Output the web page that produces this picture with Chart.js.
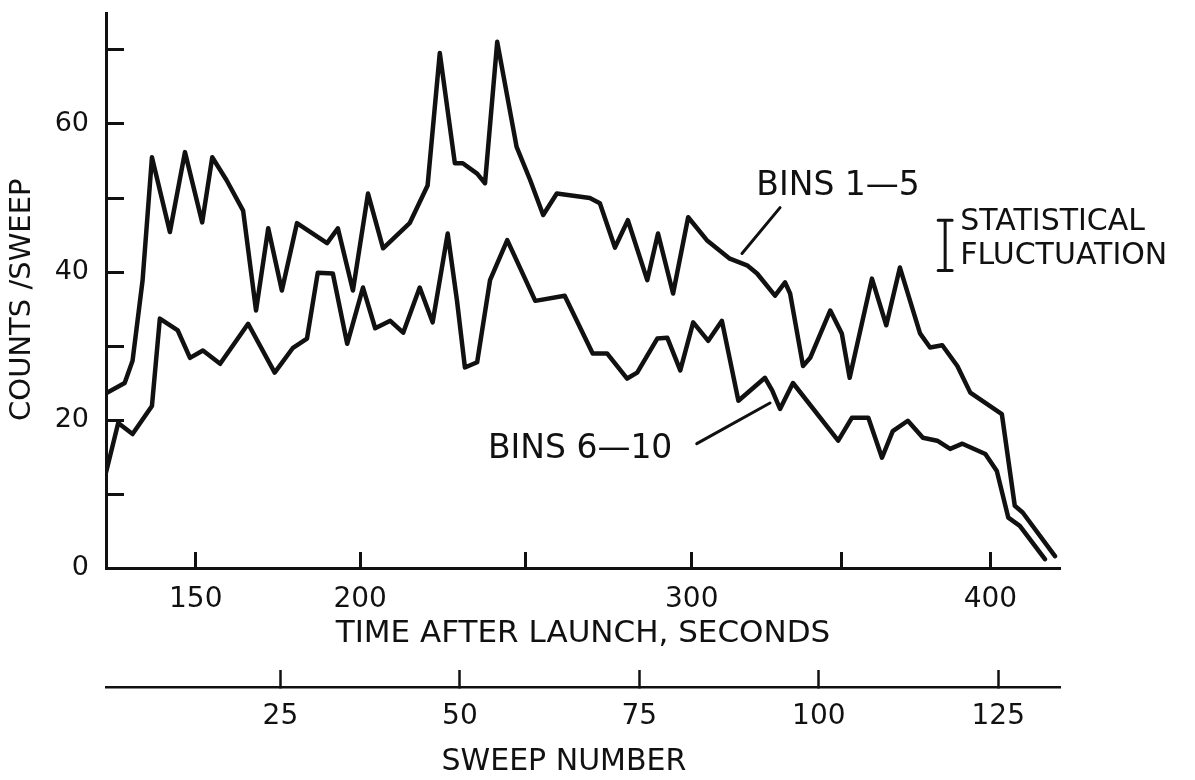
<!DOCTYPE html>
<html>
<head>
<meta charset="utf-8">
<title>Counts per sweep</title>
<script src="https://cdn.jsdelivr.net/npm/chart.js@4.4.1/dist/chart.umd.min.js"></script>
<style>
  html, body { margin: 0; padding: 0; background: #fff; }
  #wrap { width: 1195px; height: 780px; }
</style>
</head>
<body>
<div id="wrap"><canvas id="counts" width="1195" height="780"></canvas></div>
<script>
// Counts per sweep for two groups of bins, x in sweep number

const bins15Sweep = [0.7, 3.3, 4.4, 5.8, 7.1, 9.6, 11.7, 14.1, 15.5, 17.5, 19.8, 21.6, 23.3, 25.2, 27.3,
  31.5, 33.0, 35.1, 37.2, 39.3, 43.0, 45.5, 47.2, 49.3, 50.4, 52.4, 53.5, 55.2, 57.9, 59.8,
  61.6, 63.5, 68.1, 69.5, 71.6, 73.4, 76.1, 77.6, 79.7, 81.8, 84.4, 87.6, 90.0, 91.4, 93.9,
  95.3, 96.0, 97.8, 98.8, 101.6, 103.2, 104.3, 107.4, 109.4, 111.3, 114.1, 115.5, 117.2, 119.3, 121.1,
  125.5, 127.3, 128.4, 132.9];
const bins15Counts = [23.6, 25.0, 28.0, 38.9, 55.5, 45.4, 56.2, 46.7, 55.5, 52.4, 48.3, 34.8, 45.9, 37.5, 46.6,
  43.9, 45.9, 37.5, 50.6, 43.2, 46.6, 51.7, 69.6, 54.7, 54.7, 53.3, 52.0, 71.1, 56.9, 52.4,
  47.7, 50.6, 50.0, 49.3, 43.3, 47.0, 38.9, 45.2, 37.1, 47.4, 44.3, 41.8, 40.9, 39.8, 36.8,
  38.6, 37.1, 27.3, 28.4, 34.8, 31.7, 25.7, 39.1, 32.8, 40.6, 31.7, 29.8, 30.1, 27.3, 23.7,
  20.8, 8.4, 7.5, 1.6];

const bins610Sweep = [0.7, 2.4, 4.4, 7.1, 8.2, 10.7, 12.4, 14.2, 16.6, 20.5, 24.2, 26.7, 28.7, 30.2, 32.3,
  34.3, 36.5, 38.2, 40.3, 42.1, 44.4, 46.2, 48.3, 49.6, 50.7, 52.4, 54.2, 56.6, 60.5, 64.6,
  68.5, 70.5, 73.3, 74.7, 77.5, 78.9, 80.7, 82.5, 84.6, 86.5, 88.8, 92.5, 93.5, 94.6, 96.4,
  102.7, 104.6, 106.9, 108.8, 110.3, 112.4, 114.5, 116.5, 118.3, 120.0, 123.2, 124.8, 126.4, 128.0, 131.5];
const bins610Counts = [12.9, 19.6, 18.1, 21.9, 33.7, 32.1, 28.4, 29.4, 27.6, 33.0, 26.4, 29.7, 31.0, 39.9, 39.8,
  30.3, 37.9, 32.4, 33.4, 31.8, 37.9, 33.2, 45.2, 36.1, 27.1, 27.8, 38.9, 44.3, 36.1, 36.8,
  29.0, 29.0, 25.6, 26.4, 31.0, 31.1, 26.7, 33.2, 30.7, 33.4, 22.6, 25.7, 24.0, 21.5, 25.0,
  17.2, 20.3, 20.3, 14.9, 18.5, 19.9, 17.6, 17.2, 16.1, 16.8, 15.4, 13.1, 6.8, 5.7, 1.2];

// time after launch (s) and the sweep number each one falls on
const timeTicks = [150, 200, 250, 300, 350, 400];
const timeTickSweeps = [13.2, 36.1, 59.1, 82.3, 103.2, 123.9];
const timeTickLabels = ['150', '200', '', '300', '', '400'];

const sweepTicks = [25, 50, 75, 100, 125];
const countTicks = [0, 10, 20, 30, 40, 50, 60, 70];
const countTickLabels = ['0', '', '20', '', '40', '', '60', ''];

// size of the statistical fluctuation, counts
const fluctuation = [40.2, 47.0];

const sweepMin = 0.7, sweepMax = 133.6;
const black = '#111';

Chart.defaults.font.family = '"DejaVu Sans", sans-serif';
Chart.defaults.color = black;

// labels and leader lines, placed in sweep / count units
const notes = {
  bins15: { text: 'BINS 1\u20145', x: 91.3, y: 51.6, from: [94.6, 48.7], to: [89.3, 42.5] },
  bins610: { text: 'BINS 6\u201410', x: 53.9, y: 16.0, from: [83.0, 16.8], to: [93.2, 22.3] },
  fluct: { x: 117.6, textX: 119.7, lines: [['STATISTICAL', 46.7], ['FLUCTUATION', 42.1]] }
};

const notesPlugin = {
  id: 'notes',
  afterDraw(chart) {
    const {ctx} = chart;
    const sx = chart.scales.x, sy = chart.scales.y;
    const px = v => sx.getPixelForValue(v);
    const py = v => sy.getPixelForValue(v);
    ctx.save();
    ctx.strokeStyle = black;
    ctx.fillStyle = black;
    ctx.lineWidth = 3;
    ctx.lineCap = 'round';
    ctx.textAlign = 'left';
    ctx.textBaseline = 'middle';

    ctx.font = '33px "DejaVu Sans"';
    [notes.bins15, notes.bins610].forEach(n => {
      ctx.fillText(n.text, px(n.x), py(n.y));
      ctx.beginPath();
      ctx.moveTo(px(n.from[0]), py(n.from[1]));
      ctx.lineTo(px(n.to[0]), py(n.to[1]));
      ctx.stroke();
    });

    // error bar with caps
    const bx = px(notes.fluct.x);
    const y0 = py(fluctuation[0]), y1 = py(fluctuation[1]);
    ctx.beginPath();
    ctx.moveTo(bx, y0); ctx.lineTo(bx, y1);
    ctx.moveTo(bx - 7, y0); ctx.lineTo(bx + 7, y0);
    ctx.moveTo(bx - 7, y1); ctx.lineTo(bx + 7, y1);
    ctx.stroke();

    ctx.font = '30px "DejaVu Sans"';
    notes.fluct.lines.forEach(([t, v]) => ctx.fillText(t, px(notes.fluct.textX), py(v)));
    ctx.restore();
  }
};

const toPoints = (xs, ys) => xs.map((s, i) => ({x: s, y: ys[i]}));

new Chart(document.getElementById('counts'), {
  type: 'line',
  data: {
    datasets: [{
      label: 'BINS 1-5',
      data: toPoints(bins15Sweep, bins15Counts),
      borderColor: black,
      borderWidth: 4.5
    },
    {
      label: 'BINS 6-10',
      data: toPoints(bins610Sweep, bins610Counts),
      borderColor: black,
      borderWidth: 4.5
    }]
  },
  options: {
    responsive: false,
    animation: false,
    devicePixelRatio: 1,
    layout: { padding: { top: 13, right: 135, bottom: 0, left: 0 } },
    elements: {
      point: { radius: 0 },
      line: { tension: 0, borderJoinStyle: 'round', borderCapStyle: 'round' }
    },
    plugins: {
      legend: { display: false },
      tooltip: { enabled: false }
    },
    scales: {
      x: {
        type: 'linear',
        position: 'bottom',
        min: sweepMin,
        max: sweepMax,
        afterBuildTicks: axis => { axis.ticks = timeTickSweeps.map(v => ({value: v})); },
        afterFit: axis => { axis.height = 119; axis.paddingLeft = 0; axis.paddingRight = 0; },
        grid: { drawOnChartArea: false, tickLength: -16, tickWidth: 3, tickColor: black },
        border: { color: black, width: 3 },
        ticks: {
          autoSkip: false,
          maxRotation: 0,
          padding: 31,
          font: { size: 28 },
          callback: (v, i) => timeTickLabels[i]
        },
        title: {
          display: true,
          text: 'TIME AFTER LAUNCH, SECONDS',
          font: { size: 31 },
          padding: { top: 0, bottom: 34 }
        }
      },
      x2: {
        type: 'linear',
        position: 'bottom',
        weight: 1,
        min: sweepMin,
        max: sweepMax,
        afterBuildTicks: axis => { axis.ticks = sweepTicks.map(v => ({value: v})); },
        afterFit: axis => { axis.height = 93; axis.paddingLeft = 0; axis.paddingRight = 0; },
        grid: { drawOnChartArea: false, tickLength: -17, tickWidth: 2.5, tickColor: black },
        border: { color: black, width: 2.5 },
        ticks: {
          autoSkip: false,
          maxRotation: 0,
          padding: 30,
          font: { size: 28 }
        },
        title: {
          display: true,
          text: 'SWEEP NUMBER    ',
          font: { size: 30 },
          padding: { top: 0, bottom: 0 }
        }
      },
      y: {
        type: 'linear',
        min: 0,
        max: 75,
        afterBuildTicks: axis => { axis.ticks = countTicks.map(v => ({value: v})); },
        afterFit: axis => { axis.width = 106; axis.paddingTop = 0; axis.paddingBottom = 0; },
        grid: { drawOnChartArea: false, tickLength: -18, tickWidth: 3, tickColor: black },
        border: { color: black, width: 3 },
        ticks: {
          padding: 35,
          font: { size: 27 },
          callback: (v, i) => countTickLabels[i]
        },
        title: {
          display: true,
          text: 'COUNTS /SWEEP  ',
          font: { size: 29 },
          padding: { top: 5, bottom: 0 }
        }
      }
    }
  },
  plugins: [notesPlugin]
});
</script>
</body>
</html>
